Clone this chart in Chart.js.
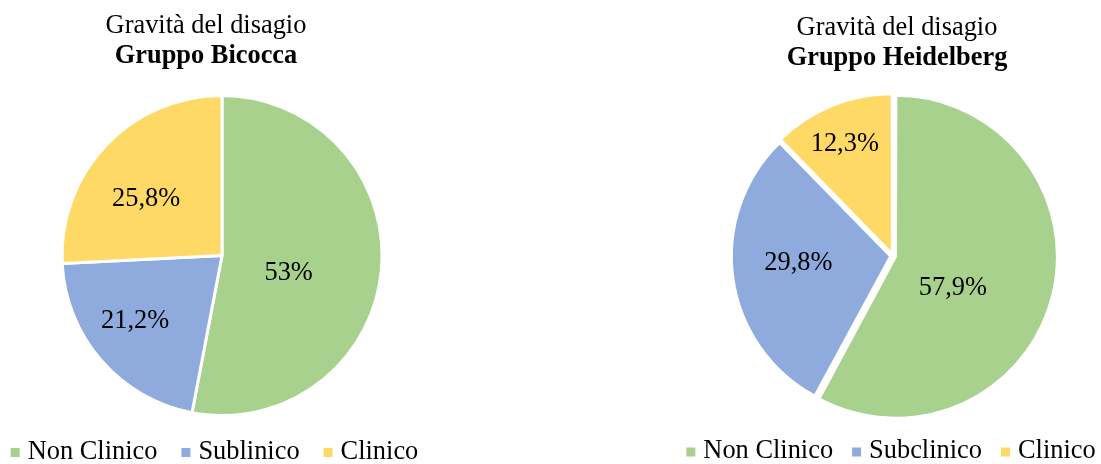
<!DOCTYPE html>
<html>
<head>
<meta charset="utf-8">
<script src="https://cdn.jsdelivr.net/npm/chart.js@4.4.0/dist/chart.umd.min.js"></script>
<style>
html, body { margin:0; padding:0; background:#fff; overflow:hidden; }
#wrap { position:relative; width:1101px; height:464px; overflow:hidden; }
canvas { position:absolute; top:0; }
#c1 { left:-28px; }
#c2 { left:643px; }
</style>
</head>
<body>
<div id="wrap">
  <canvas id="c1" width="500" height="464"></canvas>
  <canvas id="c2" width="500" height="464"></canvas>
</div>
<script>
// data
var categoriesBicocca = ['Non Clinico', 'Sublinico', 'Clinico'];
var valuesBicocca = [53, 21.2, 25.8];
var categoriesHeidelberg = ['Non Clinico', 'Subclinico', 'Clinico'];
var valuesHeidelberg = [57.9, 29.8, 12.3];
var colors = ['#A9D18E', '#8FAADC', '#FFD966'];

var serif = "'Liberation Serif', 'Times New Roman', serif";
var fontPx = '26.4px ';
Chart.defaults.font.family = serif;
Chart.defaults.color = '#000';

function pct(v) {
  return String(v).replace('.', ',') + '%';
}

// titles, % labels in the slices and the legend row (Excel style)
var pieText = {
  id: 'pieText',
  afterDatasetsDraw: function(chart, args, opts) {
    var ctx = chart.ctx;
    var meta = chart.getDatasetMeta(0);
    var vals = chart.data.datasets[0].data;
    ctx.save();
    ctx.font = fontPx + serif;
    ctx.fillStyle = '#000';
    ctx.textAlign = 'center';
    ctx.textBaseline = 'middle';
    meta.data.forEach(function(arc, i) {
      var p = arc.getProps(['x', 'y', 'startAngle', 'endAngle', 'outerRadius'], true);
      var a = (p.startAngle + p.endAngle) / 2 + opts.angleShift[i] * Math.PI / 180;
      var r = p.outerRadius * opts.radius[i];
      ctx.fillText(pct(vals[i]), p.x + Math.cos(a) * r, p.y + Math.sin(a) * r);
    });
    ctx.restore();
  },
  afterDraw: function(chart, args, opts) {
    var ctx = chart.ctx;
    var mid = (chart.chartArea.left + chart.chartArea.right) / 2;
    ctx.save();
    ctx.fillStyle = '#000';
    ctx.textAlign = 'center';
    ctx.textBaseline = 'alphabetic';
    ctx.font = fontPx + serif;
    ctx.fillText(opts.title[0], mid + opts.titleShift, opts.titleY[0]);
    ctx.font = 'bold ' + fontPx + serif;
    ctx.fillText(opts.title[1], mid + opts.titleShift, opts.titleY[1]);

    // legend
    ctx.font = fontPx + serif;
    ctx.textAlign = 'left';
    var labels = chart.data.labels;
    var bg = chart.data.datasets[0].backgroundColor;
    var box = 9, gap = 8;
    var total = 0;
    labels.forEach(function(l, i) {
      total += box + gap + ctx.measureText(l).width + (i > 0 ? opts.legendGap : 0);
    });
    var x = mid + opts.legendShift - total / 2;
    labels.forEach(function(l, i) {
      ctx.fillStyle = bg[i];
      ctx.fillRect(x, opts.legendY - box / 2, box, box);
      x += box + gap;
      ctx.fillStyle = '#000';
      ctx.fillText(l, x, opts.legendY + 6);
      x += ctx.measureText(l).width + opts.legendGap;
    });
    ctx.restore();
  }
};

function makePie(id, labels, values, offset, border, pad, text) {
  return new Chart(document.getElementById(id), {
    type: 'pie',
    data: {
      labels: labels,
      datasets: [{
        data: values,
        backgroundColor: colors,
        borderColor: '#fff',
        borderWidth: border,
        offset: offset
      }]
    },
    options: {
      responsive: false,
      animation: false,
      layout: { padding: pad },
      plugins: {
        tooltip: { enabled: false },
        legend: { display: false },
        pieText: text
      }
    },
    plugins: [pieText]
  });
}

makePie('c1', categoriesBicocca, valuesBicocca, 0, 3, { top: 94, bottom: 47 }, {
  title: ['Gravità del disagio', 'Gruppo Bicocca'],
  titleY: [33, 63],
  titleShift: -16,
  radius: [0.43, 0.68, 0.59],
  angleShift: [9, 4, -7],
  legendY: 452.5,
  legendGap: 24,
  legendShift: -7.5
});

makePie('c2', categoriesHeidelberg, valuesHeidelberg, 12, 2, { top: 91, bottom: 43 }, {
  title: ['Gravità del disagio', 'Gruppo Heidelberg'],
  titleY: [35, 65],
  titleShift: 4,
  radius: [0.43, 0.6, 0.77],
  angleShift: [14, 3.7, -1.2],
  legendY: 452,
  legendGap: 19,
  legendShift: -2
});
</script>
</body>
</html>
